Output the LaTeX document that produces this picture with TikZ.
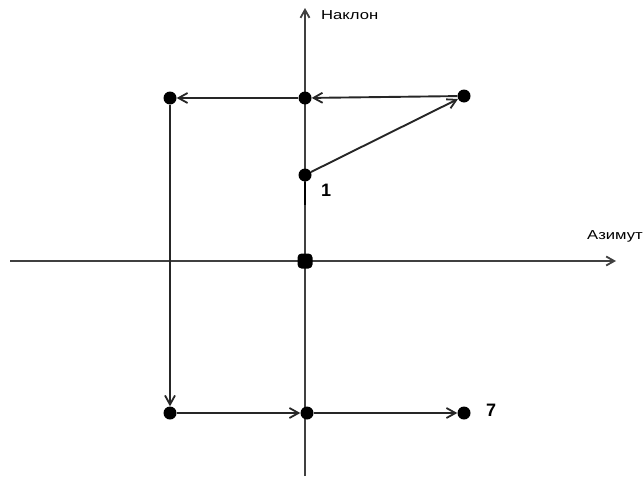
\documentclass[tikz,border=0pt]{standalone}
\usepackage{fontspec}
\setmainfont{Liberation Sans}
\usetikzlibrary{arrows.meta, positioning}
\tikzset{
  pt/.style={circle, fill=black, inner sep=0pt, minimum size=13pt},
  origin/.style={rectangle, rounded corners=4pt, fill=black, inner sep=0pt, minimum size=15pt},
  axis/.style={-{Straight Barb[length=8pt, width=9pt, line width=1.8pt]}, line width=1.7pt, draw=black!75},
  arr/.style={-{Straight Barb[length=9pt, width=10pt, line width=1.8pt]}, line width=1.9pt, draw=black!85},
  lbl/.style={font=\fontsize{13}{15}\selectfont, inner sep=1pt},
  num/.style={font=\fontsize{18}{20}\selectfont\bfseries, inner sep=1pt},
}
\newcommand{\wide}[1]{\scalebox{1.28}[1]{#1}}
\begin{document}
\begin{tikzpicture}[x=1pt, y=-1pt]
  \useasboundingbox (0,0) rectangle (644,479);

  % axes
  \coordinate (vlo) at (305,476);
  \coordinate (vhi) at (305,8);
  \coordinate (hlo) at (10,261);
  \coordinate (hhi) at (616,261);
  \draw[axis] (vlo) -- (vhi);
  \draw[axis] (hlo) -- (hhi);
  \node[lbl, anchor=west] (tilt) at (320,15) {\wide{Наклон}};
  \node[lbl, anchor=east] (azim) at (644,236) {\wide{Азимут}};

  % points
  \node[origin] (o) at (305,261) {};
  \node[pt] (p1) at (305,175) {};
  \node[pt] (p2) at (464,96) {};
  \node[pt] (p3) at (305,98) {};
  \node[pt] (p4) at (170,98) {};
  \node[pt] (p5) at (170,413) {};
  \node[pt] (p6) at (307,413) {};
  \node[pt] (p7) at (464,413) {};
  \node[num] (n1) at (326,190) {1};
  \node[num] (n7) at (491,410) {7};

  % path
  \draw[line width=2.8pt] (p1) -- (305,205);
  \draw[arr] (p1) -- (p2);
  \draw[arr] (p2) -- (p3);
  \draw[arr] (p3) -- (p4);
  \draw[arr] (p4) -- (p5);
  \draw[arr] (p5) -- (p6);
  \draw[arr] (p6) -- (p7);
\end{tikzpicture}
\end{document}
